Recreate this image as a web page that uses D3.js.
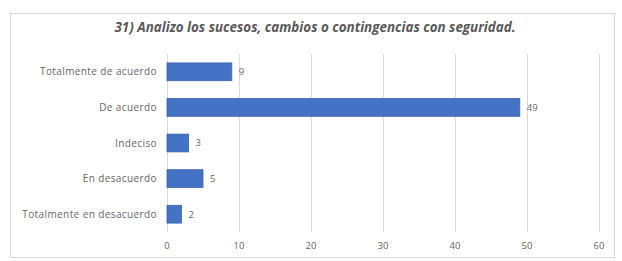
<!DOCTYPE html>
<html>
<head>
    <meta charset="utf-8">
    <title>Bar Chart</title>
    <script src="https://d3js.org/d3.v7.min.js"></script>
    <style>
        body { margin: 0; background: #fff; }
        text { font-family: "Open Sans", sans-serif; fill: #666; }
    </style>
</head>
<body>

<script>
const categories = ['Totalmente de acuerdo', 'De acuerdo', 'Indeciso', 'En desacuerdo', 'Totalmente en desacuerdo'];
const values = [9, 49, 3, 5, 2];
const xTicks = [0, 10, 20, 30, 40, 50, 60];
const title = '31) Analizo los sucesos, cambios o contingencias con seguridad.';

const width = 622, height = 261;
const margin = { top: 54, right: 23, bottom: 29, left: 167 };

const svg = d3.select('body')
    .append('svg')
    .attr('width', width)
    .attr('height', height);

// chart frame
svg.append('rect')
    .attr('x', 10.5).attr('y', 13.5)
    .attr('width', 604).attr('height', 244)
    .attr('fill', '#fff')
    .attr('stroke', '#d9d9d9');

const x = d3.scaleLinear()
    .domain([0, 60])
    .range([margin.left, width - margin.right]);

const y = d3.scaleBand()
    .domain(categories)
    .range([margin.top, height - margin.bottom])
    .paddingInner(0.5)
    .paddingOuter(0.25);

// gridlines
svg.append('g')
    .selectAll('line')
    .data(xTicks)
    .enter()
    .append('line')
    .attr('x1', d => Math.round(x(d)) + 0.5)
    .attr('x2', d => Math.round(x(d)) + 0.5)
    .attr('y1', margin.top)
    .attr('y2', height - margin.bottom)
    .attr('stroke', '#d9d9d9');

// x tick labels
svg.append('g')
    .selectAll('text')
    .data(xTicks)
    .enter()
    .append('text')
    .attr('x', d => x(d))
    .attr('y', 249)
    .attr('text-anchor', 'middle')
    .attr('font-size', 9.5)
    .text(d => d);

// category labels
svg.append('g')
    .selectAll('text')
    .data(categories)
    .enter()
    .append('text')
    .attr('x', margin.left - 10)
    .attr('y', d => y(d) + y.bandwidth() / 2)
    .attr('dy', '0.35em')
    .attr('text-anchor', 'end')
    .attr('font-size', 10)
    .attr('letter-spacing', 0.4)
    .text(d => d);

// bars
svg.append('g')
    .selectAll('rect')
    .data(values)
    .enter()
    .append('rect')
    .attr('x', x(0))
    .attr('y', (d, i) => y(categories[i]))
    .attr('width', d => x(d) - x(0))
    .attr('height', y.bandwidth())
    .attr('fill', '#4472c4')
    .attr('stroke', '#3b64ad')
    .attr('stroke-width', 0.8);

// value labels
svg.append('g')
    .selectAll('text')
    .data(values)
    .enter()
    .append('text')
    .attr('x', d => x(d) + 7)
    .attr('y', (d, i) => y(categories[i]) + y.bandwidth() / 2)
    .attr('dy', '0.35em')
    .attr('font-size', 9.5)
    .text(d => d);

// title
svg.append('text')
    .attr('x', 315)
    .attr('y', 32)
    .attr('text-anchor', 'middle')
    .attr('font-size', 13.4)
    .attr('font-weight', 'bold')
    .attr('font-style', 'italic')
    .style('fill', '#595959')
    .text(title);
</script>

</body>
</html>
